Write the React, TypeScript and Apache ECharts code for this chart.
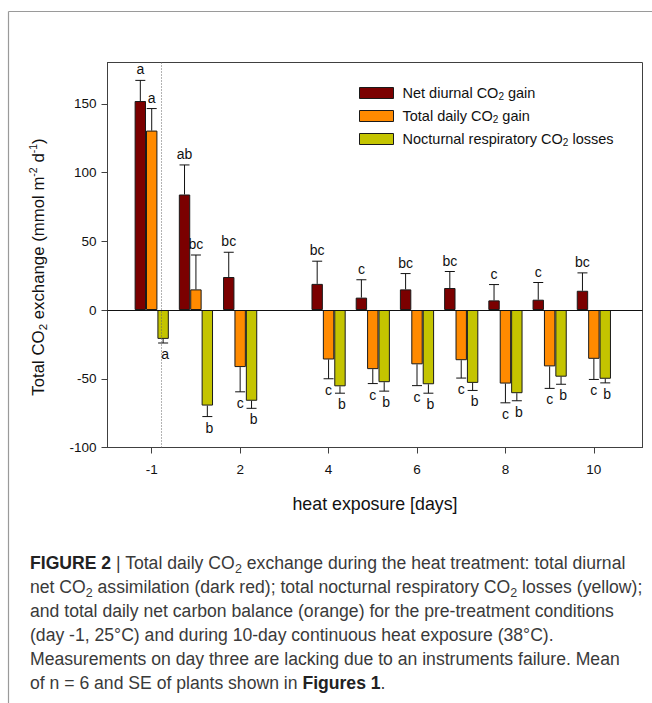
import React, { useEffect, useRef } from "react";
import * as echarts from "echarts";

// ---- data ----
const days = [-1, 1, 2, 4, 5, 6, 7, 8, 9, 10];
const tickDays = [-1, 2, 4, 6, 8, 10];

const seriesNames = [
  "Net diurnal CO2 gain",
  "Total daily CO2 gain",
  "Nocturnal respiratory CO2 losses",
];

const netDiurnal = [152, 84, 24, 19, 9, 15, 16, 7, 7.5, 14];
const netDiurnalSE = [15, 21.5, 18, 16.5, 13, 11.5, 12, 11.5, 12.5, 13];
const netDiurnalLetters = ["a", "ab", "bc", "bc", "c", "bc", "bc", "c", "c", "bc"];

const totalDaily = [130.5, 15, -41.5, -36, -43, -39.5, -36.5, -53.5, -41, -35.5];
const totalDailySE = [16, 25, 18, 14, 10.5, 15.5, 13, 14, 16, 15];
const totalDailyLetters = ["a", "bc", "c", "c", "c", "c", "c", "c", "c", "c"];

const nocturnal = [-21, -69.5, -66, -55.5, -52.5, -54, -53, -60.5, -48.5, -50];
const nocturnalSE = [3, 8, 5.5, 5, 6.5, 6.5, 5.5, 5.5, 5.5, 3];
const nocturnalLetters = ["a", "b", "b", "b", "b", "b", "b", "b", "b", "b"];

const yTicks = [-100, -50, 0, 50, 100, 150];

const captionLines = [
  "{b|FIGURE 2} | Total daily CO{s|2} exchange during the heat treatment: total diurnal",
  "net CO{s|2} assimilation (dark red); total nocturnal respiratory CO{s|2} losses (yellow);",
  "and total daily net carbon balance (orange) for the pre-treatment conditions",
  "(day -1, 25°C) and during 10-day continuous heat exposure (38°C).",
  "Measurements on day three are lacking due to an instruments failure. Mean",
  "of n = 6 and SE of plants shown in {b|Figures 1}.",
];

const colors = ["#7b0000", "#ff8a00", "#c4c400"];

// day -1 (pre-treatment) is drawn at position 0 of the axis
const dayPos = (d: number) => (d < 0 ? 0 : d);
const separatorPos = 0.47;

const FONT = "'Liberation Sans', Arial, sans-serif";
const BAR_W = 11.4;

export default function App() {
  const ref = useRef<HTMLDivElement>(null);

  useEffect(() => {
    if (!ref.current) return;
    const chart = echarts.init(ref.current, undefined, { renderer: "svg" });

    const values = [netDiurnal, totalDaily, nocturnal];
    const ses = [netDiurnalSE, totalDailySE, nocturnalSE];
    const letters = [netDiurnalLetters, totalDailyLetters, nocturnalLetters];

    const barSeries = values.map((vals, i) => ({
      name: seriesNames[i],
      type: "bar",
      barWidth: BAR_W,
      barGap: "0%",
      data: vals.map((v, j) => [dayPos(days[j]), v]),
      itemStyle: { color: colors[i], borderColor: "#1a1a1a", borderWidth: 1 },
      z: 2,
      ...(i === 0
        ? {
            markLine: {
              silent: true,
              symbol: "none",
              label: { show: false },
              animation: false,
              data: [
                { yAxis: 0, lineStyle: { color: "#111", type: "solid", width: 1 } },
                { xAxis: separatorPos, lineStyle: { color: "#666", type: [1, 2], width: 1 } },
              ],
            },
          }
        : {}),
    }));

    const errSeries = values.map((vals, i) => ({
      name: seriesNames[i] + " SE",
      type: "custom",
      z: 3,
      silent: true,
      data: vals.map((v, j) => [
        dayPos(days[j]),
        v,
        v + (v >= 0 ? 1 : -1) * ses[i][j],
      ]),
      renderItem: (params: any, api: any) => {
        const x = api.value(0);
        const v = api.value(1);
        const e = api.value(2);
        const p0 = api.coord([x, v]);
        const p1 = api.coord([x, e]);
        const cx = p0[0] + (i - 1) * BAR_W;
        const up = e >= 0;
        return {
          type: "group",
          children: [
            {
              type: "line",
              shape: { x1: cx, y1: p0[1], x2: cx, y2: p1[1] },
              style: { stroke: "#111", lineWidth: 1 },
            },
            {
              type: "line",
              shape: { x1: cx - 5, y1: p1[1], x2: cx + 5, y2: p1[1] },
              style: { stroke: "#111", lineWidth: 1 },
            },
            {
              type: "text",
              x: cx + (i === 2 ? 2 : 0),
              y: p1[1] + (up ? -4 : 4),
              style: {
                text: letters[i][params.dataIndex],
                fill: "#111",
                font: `14px ${FONT}`,
                align: "center",
                verticalAlign: up ? "bottom" : "top",
              },
            },
          ],
        };
      },
    }));

    const option: any = {
      animation: false,
      backgroundColor: "#ffffff",
      grid: {
        left: 107.5,
        right: 9.5,
        top: 62.5,
        bottom: 255.5,
        show: true,
        borderColor: "#404040",
        borderWidth: 1,
        backgroundColor: "transparent",
      },
      legend: {
        orient: "vertical",
        left: 359,
        top: 85,
        padding: 0,
        itemWidth: 34,
        itemHeight: 11,
        itemGap: 7,
        icon: "rect",
        selectedMode: false,
        data: seriesNames,
        itemStyle: { borderColor: "#1a1a1a", borderWidth: 1 },
        formatter: (name: string) => name.replace("CO2", "CO{s|2}"),
        textStyle: {
          fontFamily: FONT,
          fontSize: 14.5,
          color: "#111",
          lineHeight: 16,
          padding: [0, 0, 0, 4],
          rich: {
            s: { fontFamily: FONT, fontSize: 10, color: "#111", lineHeight: 9, verticalAlign: "bottom" },
          },
        },
      },
      xAxis: {
        type: "value",
        min: -1,
        max: 11.1,
        splitLine: { show: false },
        axisLine: { show: true, onZero: false, lineStyle: { color: "#404040", width: 1 } },
        axisTick: {
          show: true,
          length: 6,
          lineStyle: { color: "#404040" },
          customValues: tickDays.map(dayPos),
        },
        axisLabel: {
          customValues: tickDays.map(dayPos),
          formatter: (v: number) => {
            const k = tickDays.map(dayPos).indexOf(v);
            return k >= 0 ? String(tickDays[k]) : "";
          },
          fontFamily: FONT,
          fontSize: 13.5,
          color: "#111",
          margin: 15,
        },
        name: "heat exposure [days]",
        nameLocation: "middle",
        nameGap: 47,
        nameTextStyle: { fontFamily: FONT, fontSize: 17.8, color: "#111" },
      },
      yAxis: {
        type: "value",
        min: -100,
        max: 180,
        interval: 50,
        splitLine: { show: false },
        axisLine: { show: true, onZero: false, lineStyle: { color: "#404040", width: 1 } },
        axisTick: { show: true, length: 6, lineStyle: { color: "#404040" }, customValues: yTicks },
        axisLabel: {
          customValues: yTicks,
          fontFamily: FONT,
          fontSize: 13.5,
          color: "#111",
          margin: 11,
        },
        name: "Total CO{s|2} exchange (mmol m{p|-2} d{p|-1})",
        nameLocation: "middle",
        nameRotate: 90,
        nameGap: 59,
        nameTextStyle: {
          fontFamily: FONT,
          fontSize: 16.8,
          color: "#111",
          lineHeight: 21,
          padding: [0, 24, 0, 0],
          rich: {
            s: { fontFamily: FONT, fontSize: 11.5, color: "#111", lineHeight: 13, verticalAlign: "bottom" },
            p: { fontFamily: FONT, fontSize: 10.5, color: "#111", lineHeight: 11, verticalAlign: "top" },
          },
        },
      },
      graphic: [
        {
          type: "line",
          shape: { x1: 8.5, y1: 11.5, x2: 652, y2: 11.5 },
          style: { stroke: "#9a9a9a", lineWidth: 1.2 },
        },
        {
          type: "line",
          shape: { x1: 8.5, y1: 11.5, x2: 8.5, y2: 703 },
          style: { stroke: "#9a9a9a", lineWidth: 1.2 },
        },
        {
          type: "text",
          left: 30,
          top: 551,
          style: {
            text: captionLines.join("\n"),
            font: `17.6px ${FONT}`,
            fill: "#3a3a3a",
            lineHeight: 24,
            rich: {
              b: { fontFamily: FONT, fontSize: 17.6, fontWeight: "bold", fill: "#222", lineHeight: 24 },
              s: { fontFamily: FONT, fontSize: 12.5, fill: "#3a3a3a", lineHeight: 15, verticalAlign: "bottom" },
            },
          },
        },
      ],
      series: [...barSeries, ...errSeries],
    };

    chart.setOption(option);
    return () => chart.dispose();
  }, []);

  return (
    <div
      ref={ref}
      style={{ position: "fixed", left: 0, top: 0, width: 652, height: 703, background: "#fff" }}
    />
  );
}
